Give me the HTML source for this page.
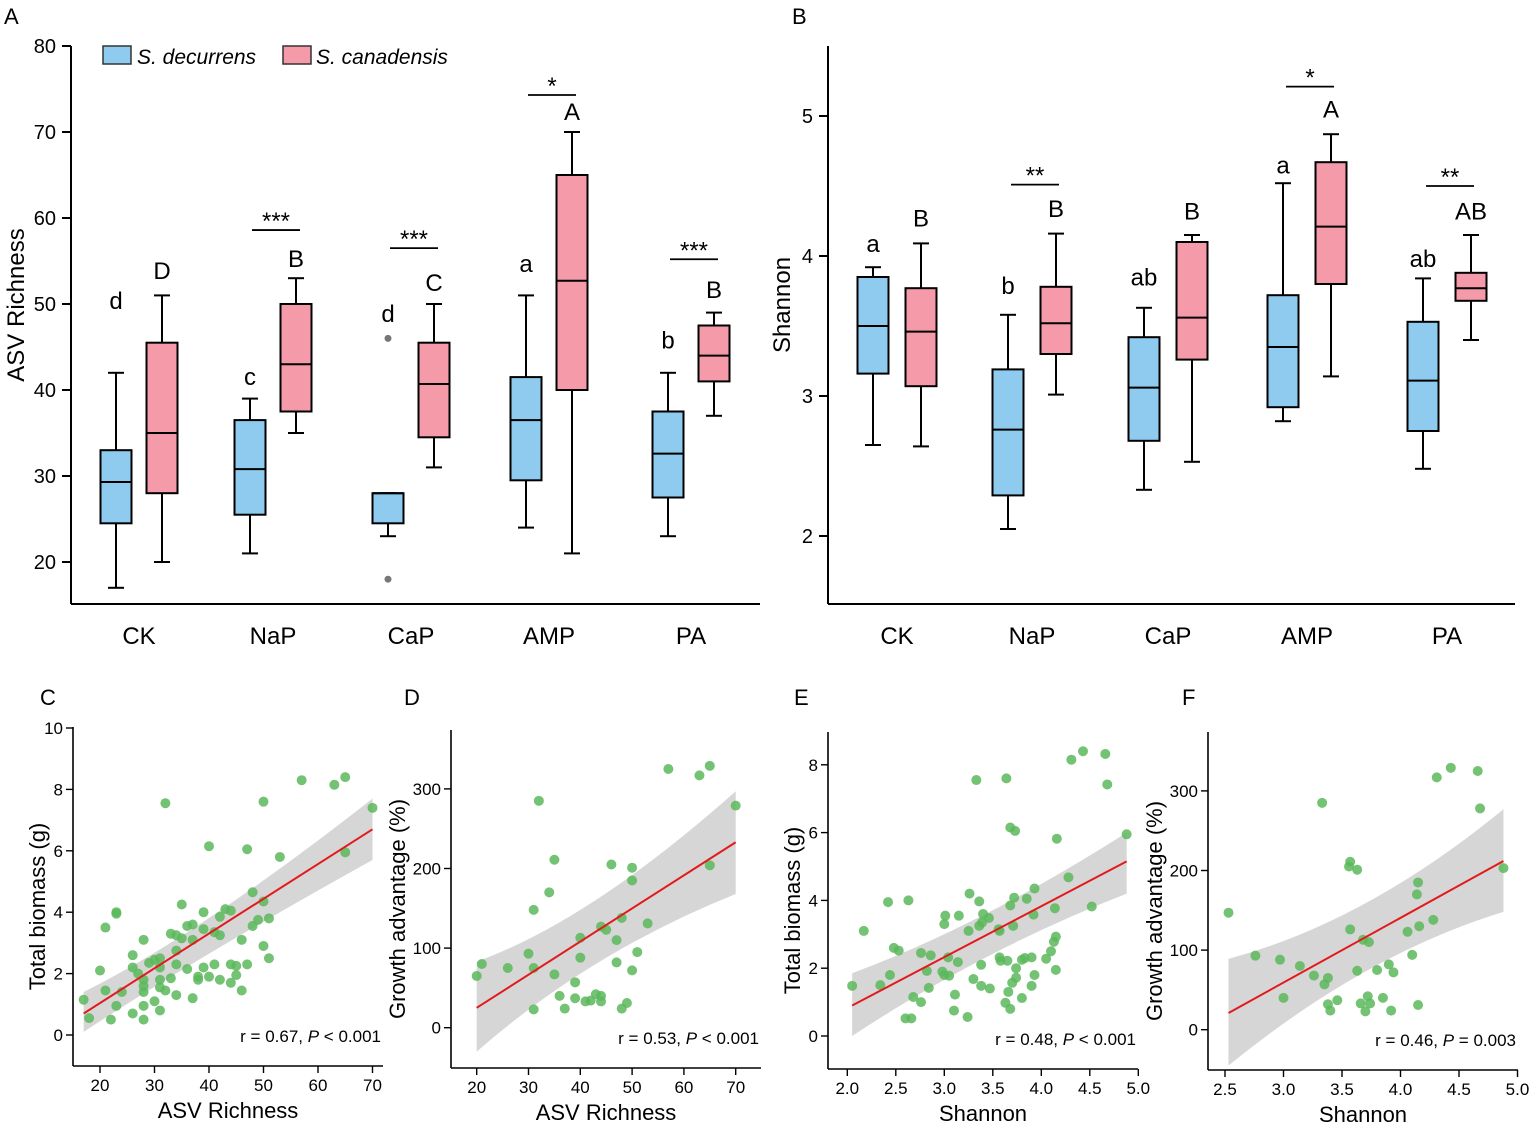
<!DOCTYPE html>
<html><head><meta charset="utf-8"><style>
html,body{margin:0;padding:0;background:#fff}
svg{display:block;font-family:"Liberation Sans",Arial,sans-serif}
</style></head><body>
<svg id="fig" width="1535" height="1128" viewBox="0 0 1535 1128" xmlns="http://www.w3.org/2000/svg"></svg>
<script>
// ---------- Data: panel A (ASV richness) ----------
const groups = ["CK","NaP","CaP","AMP","PA"];
const richDecMin=[17,21,23,24,23], richDecQ1=[24.5,25.5,24.5,29.5,27.5], richDecMed=[29.3,30.8,28,36.5,32.6], richDecQ3=[33,36.5,28,41.5,37.5], richDecMax=[42,39,28,51,42];
const richCanMin=[20,35,31,21,37], richCanQ1=[28,37.5,34.5,40,41], richCanMed=[35,43,40.7,52.7,44], richCanQ3=[45.5,50,45.5,65,47.5], richCanMax=[51,53,50,70,49];
const richDecLetters=["d","c","d","a","b"], richCanLetters=["D","B","C","A","B"];
const richDecLetterY=[49.4,40.6,47.9,53.7,44.8], richCanLetterY=[52.9,54.3,51.5,71.4,50.7];
const richSig=["","***","***","*","***"];
const richSigY=[0,58.6,56.5,74.3,55.2];
const richOutliers=[[2,46],[2,18]];
const richTicks=[20,30,40,50,60,70,80];
// ---------- Data: panel B (Shannon) ----------
const shDecMin=[2.65,2.05,2.33,2.82,2.48], shDecQ1=[3.16,2.29,2.68,2.92,2.75], shDecMed=[3.5,2.76,3.06,3.35,3.11], shDecQ3=[3.85,3.19,3.42,3.72,3.53], shDecMax=[3.92,3.58,3.63,4.52,3.84];
const shCanMin=[2.64,3.01,2.53,3.14,3.4], shCanQ1=[3.07,3.3,3.26,3.8,3.68], shCanMed=[3.46,3.52,3.56,4.21,3.77], shCanQ3=[3.77,3.78,4.1,4.67,3.88], shCanMax=[4.09,4.16,4.15,4.87,4.15];
const shDecLetters=["a","b","ab","a","ab"], shCanLetters=["B","B","B","A","AB"];
const shDecLetterY=[4.03,3.73,3.79,4.59,3.92], shCanLetterY=[4.21,4.28,4.26,4.99,4.26];
const shSig=["","**","","*","**"];
const shSigY=[0,4.51,0,5.21,4.5];
const shTicks=[2,3,4,5];
// ---------- Data: scatter panels ----------
const cX=[17,18,20,21,21,22,23,23,23,24,26,26,26,27,28,28,28,28,28,28,29,30,30,31,31,31,31,31,32,32,33,33,34,34,34,34,35,35,36,36,37,37,37,38,38,39,39,39,40,40,41,41,42,42,42,43,44,44,44,45,45,46,46,47,47,48,48,49,50,50,50,51,51,53,57,63,65,65,70];
const cY=[1.15,0.55,2.1,3.5,1.45,0.5,4.0,3.95,0.95,1.4,2.6,2.2,0.7,2.0,3.1,1.8,1.6,1.4,0.95,0.5,2.35,2.45,1.1,2.5,2.2,1.8,1.55,0.8,7.55,1.45,3.3,1.85,3.25,2.75,2.3,1.3,4.25,3.15,3.55,2.15,3.6,3.1,1.2,1.9,1.8,4.0,3.45,2.2,6.15,1.9,3.35,2.3,3.85,3.25,1.8,4.1,4.05,2.3,1.7,2.25,1.95,3.1,1.45,6.05,2.3,4.65,3.55,3.75,7.6,4.35,2.9,3.8,2.5,5.8,8.3,8.15,8.4,5.95,7.4];
const dX=[20,21,26,30,31,31,31,32,34,35,35,36,37,39,39,40,40,41,42,43,44,44,44,45,46,47,47,48,48,49,50,50,50,51,53,57,63,65,65,70];
const dY=[65,80,75,93,148,75,23,285,170,211,67,40,24,57,37,113,88,33,34,42,127,40,33,123,205,110,82,138,24,31,201,185,72,95,131,325,317,329,204,279];
const eX=[2.05,2.17,2.34,2.42,2.44,2.48,2.53,2.6,2.63,2.66,2.68,2.76,2.76,2.82,2.84,2.86,2.98,3.0,3.01,3.0,3.04,3.05,3.1,3.11,3.14,3.15,3.24,3.25,3.26,3.3,3.33,3.36,3.36,3.38,3.38,3.4,3.39,3.46,3.47,3.56,3.57,3.57,3.58,3.63,3.64,3.65,3.66,3.68,3.68,3.68,3.7,3.71,3.72,3.73,3.74,3.74,3.8,3.8,3.83,3.85,3.9,3.9,3.92,3.93,3.93,4.05,4.1,4.13,4.14,4.15,4.15,4.16,4.28,4.31,4.43,4.52,4.66,4.68,4.88];
const eY=[1.48,3.1,1.5,3.95,1.8,2.6,2.52,0.52,4.0,0.52,1.15,1.0,2.45,1.92,1.42,2.38,1.9,3.3,3.55,1.8,2.32,1.78,0.75,1.22,2.18,3.55,0.56,3.1,4.2,1.68,7.55,3.97,3.25,2.1,1.48,3.6,3.35,3.48,1.4,3.15,3.1,2.32,2.22,0.98,7.6,2.22,1.3,6.15,0.8,3.85,1.57,3.25,4.08,6.05,2.0,1.72,1.12,2.25,2.3,4.05,2.32,1.48,3.58,4.35,1.8,2.28,2.5,2.78,3.77,2.93,1.95,5.82,4.68,8.15,8.4,3.82,8.32,7.42,5.95];
const fX=[2.53,2.76,2.97,3.0,3.14,3.26,3.33,3.35,3.38,3.38,3.4,3.46,3.57,3.56,3.57,3.63,3.63,3.66,3.68,3.7,3.72,3.73,3.74,3.8,3.85,3.9,3.92,3.94,4.06,4.1,4.14,4.15,4.15,4.16,4.28,4.31,4.43,4.66,4.68,4.88];
const fY=[147,93,88,40,80,68,285,57,65,32,24,37,211,205,126,201,74,33,113,23,42,110,33,75,40,82,24,72,123,94,170,185,31,130,138,317,329,325,278,203];
const cFit=[17,0.7,70,6.7], cCI=[[17,0.1,1.4],[38,2.55,3.25],[70,5.7,7.7]];
const dFit=[20,25,70,233], dCI=[[20,-30,83],[42,95,135],[70,168,297]];
const eFit=[2.05,0.9,4.88,5.15], eCI=[[2.05,0,1.85],[3.4,2.55,3.3],[4.88,4.2,6.0]];
const fFit=[2.53,21,4.88,212], fCI=[[2.53,-45,89],[3.7,95,135],[4.88,148,277]];

const NS="http://www.w3.org/2000/svg";
const svg=document.getElementById('fig');
function el(tag,attrs,parent,text){const e=document.createElementNS(NS,tag);for(const k in attrs)e.setAttribute(k,attrs[k]);if(text!==undefined)e.textContent=text;(parent||svg).appendChild(e);return e;}
function line(x1,y1,x2,y2,p,w,c){return el('line',{x1,y1,x2,y2,stroke:c||'#000','stroke-width':w||2},p);}
function txt(x,y,s,size,p,anchor,extra){return el('text',Object.assign({x,y,'font-size':size,'text-anchor':anchor||'middle',fill:'#000'},extra||{}),p,s);}

const BLUE="#8fcbee", PINK="#f59aa9";

function boxPanel(name,opt){
  const g=el('g',{});  
  const Y=v=>opt.y0-(v-opt.v0)*opt.k;
  const ax=line(opt.ax,opt.top,opt.ax,opt.bottom,g);  
  const bx=line(opt.ax,opt.bottom,opt.right,opt.bottom,g);  
  opt.ticks.forEach(t=>{line(opt.ax-9,Y(t),opt.ax,Y(t),g);
    const l=txt(opt.ax-15,Y(t)+7,String(t),20,g,'end');  });
  const yt=txt(0,0,opt.ytitle,24,g,'middle',{transform:`translate(${opt.ytx},${(opt.top+opt.bottom)/2-20}) rotate(-90)`});
   
  const pl=txt(opt.letterX,opt.letterY,opt.letter,22,g,'start');  
  groups.forEach((gname,i)=>{
    const cx=opt.cx[i];
    const xl=txt(cx,644,gname,24,g);  
    [[opt.dec,BLUE,-opt.off,opt.decL,opt.decLY],[opt.can,PINK,opt.off,opt.canL,opt.canLY]].forEach(([d,col,off,L,LY],j)=>{
      const x=cx+off, w=31;
      const bg=el('g',{},g);  
      line(x,Y(d[4][i]),x,Y(d[3][i]),bg); line(x,Y(d[1][i]),x,Y(d[0][i]),bg);
      line(x-8,Y(d[4][i]),x+8,Y(d[4][i]),bg); line(x-8,Y(d[0][i]),x+8,Y(d[0][i]),bg);
      el('rect',{x:x-w/2,y:Y(d[3][i]),width:w,height:Math.max(0.5,Y(d[1][i])-Y(d[3][i])),fill:col,stroke:'#000','stroke-width':2},bg);
      line(x-w/2,Y(d[2][i]),x+w/2,Y(d[2][i]),bg);
      const lt=txt(x,Y(LY[i]),L[i],24,bg);  
    });
    if(opt.sig[i]){
      const ly=Y(opt.sigY[i]);
      const sg=el('g',{},g);  
      line(cx-21,ly,cx+27,ly,sg,1.8);
      txt(cx+3,ly-1,opt.sig[i],24,sg);
    }
  });
  (opt.outliers||[]).forEach(o=>{const c=el('circle',{cx:opt.cx[o[0]]-opt.off,cy:Y(o[1]),r:3.5,fill:'#777'},g);  });
}

boxPanel('panel-a-richness-boxplot',{ax:71,top:46,bottom:604,right:760,y0:562,v0:20,k:8.6,ticks:richTicks,ytitle:'ASV Richness',ytx:24,letter:'A',letterX:4,letterY:24,
  cx:[139,273,411,549,691],off:23,dec:[richDecMin,richDecQ1,richDecMed,richDecQ3,richDecMax],can:[richCanMin,richCanQ1,richCanMed,richCanQ3,richCanMax],
  decL:richDecLetters,canL:richCanLetters,decLY:richDecLetterY,canLY:richCanLetterY,sig:richSig,sigY:richSigY,outliers:richOutliers});
boxPanel('panel-b-shannon-boxplot',{ax:828,top:46,bottom:604,right:1515,y0:536,v0:2,k:140,ticks:shTicks,ytitle:'Shannon',ytx:790,letter:'B',letterX:792,letterY:24,
  cx:[897,1032,1168,1307,1447],off:24,dec:[shDecMin,shDecQ1,shDecMed,shDecQ3,shDecMax],can:[shCanMin,shCanQ1,shCanMed,shCanQ3,shCanMax],
  decL:shDecLetters,canL:shCanLetters,decLY:shDecLetterY,canLY:shCanLetterY,sig:shSig,sigY:shSigY});

const lg=el('g',{});  
const le1=el('g',{},lg);  
el('rect',{x:103,y:46,width:28,height:18,fill:BLUE,stroke:'#333','stroke-width':1.5},le1);
txt(137,64,'S. decurrens',21,le1,'start',{'font-style':'italic'});
const le2=el('g',{},lg);  
el('rect',{x:283,y:46,width:28,height:18,fill:PINK,stroke:'#333','stroke-width':1.5},le2);
txt(316,64,'S. canadensis',21,le2,'start',{'font-style':'italic'});

function scatter(name,o){
  const g=el('g',{});  
  const X=v=>o.xp0+(v-o.xv0)*o.xk, Y=v=>o.yp0-(v-o.yv0)*o.yk;
  const ya=line(o.ax,o.top,o.ax,o.bottom,g,1.6);  
  const xa=line(o.ax,o.bottom,o.right,o.bottom,g,1.6);  
  o.yt.forEach(t=>{line(o.ax-7,Y(t),o.ax,Y(t),g,1.4); const l=txt(o.ax-10,Y(t)+6,String(t),17,g,'end');  });
  o.xt.forEach(t=>{line(X(t),o.bottom,X(t),o.bottom+7,g,1.4); const l=txt(X(t),o.bottom+25,o.xfmt(t),17,g);  });
  const xt=txt((o.ax+o.right)/2,o.bottom+52,o.xtitle,22,g);  
  const yt=txt(0,0,o.ytitle,22,g,'middle',{transform:`translate(${o.ytx},${(o.top+o.bottom)/2+10}) rotate(-90)`});  
  const pl=txt(o.lx,705,o.letter,22,g,'start');  
  const c=o.ci; const up=c.map(p=>[X(p[0]),Y(p[2])]), lo=c.map(p=>[X(p[0]),Y(p[1])]).reverse();
  const d='M'+up[0][0]+','+up[0][1]+' Q'+up[1][0]+','+up[1][1]+' '+up[2][0]+','+up[2][1]+' L'+lo[0][0]+','+lo[0][1]+' Q'+lo[1][0]+','+lo[1][1]+' '+lo[2][0]+','+lo[2][1]+'Z';
  const band=el('path',{d,fill:'#d6d6d6'},g);  
  o.xs.forEach((v,i)=>{const p=el('circle',{cx:X(v),cy:Y(o.ys[i]),r:5,fill:'#5cb85c','fill-opacity':0.85},g);  });
  const f=o.fit; const rl=line(X(f[0]),Y(f[1]),X(f[2]),Y(f[3]),g,2,'#e31a1c');  
  const st=el('text',{x:o.right-2,y:o.bottom-24,'font-size':17,'text-anchor':'end',fill:'#000'},g);
   
  st.appendChild(document.createTextNode(o.stat[0]+', '));
  el('tspan',{'font-style':'italic'},st,'P'); st.appendChild(document.createTextNode(' '+o.stat[1]));
}
const f1=t=>t.toFixed(1), f0=t=>String(t);
scatter('panel-c-richness-biomass',{ax:73,top:727,bottom:1066,right:383,xp0:100,xv0:20,xk:5.45,yp0:1035,yv0:0,yk:30.7,yt:[0,2,4,6,8,10],xt:[20,30,40,50,60,70],xfmt:f0,
  xtitle:'ASV Richness',ytitle:'Total biomass (g)',ytx:45,letter:'C',lx:40,xs:cX,ys:cY,fit:cFit,ci:cCI,stat:['r = 0.67','< 0.001']});
scatter('panel-d-richness-growth',{ax:451,top:730,bottom:1068,right:761,xp0:476.7,xv0:20,xk:5.18,yp0:1027.7,yv0:0,yk:0.796,yt:[0,100,200,300],xt:[20,30,40,50,60,70],xfmt:f0,
  xtitle:'ASV Richness',ytitle:'Growth advantage (%)',ytx:405,letter:'D',lx:404,xs:dX,ys:dY,fit:dFit,ci:dCI,stat:['r = 0.53','< 0.001']});
scatter('panel-e-shannon-biomass',{ax:828,top:732,bottom:1069,right:1138,xp0:847.3,xv0:2,xk:97,yp0:1036,yv0:0,yk:33.9,yt:[0,2,4,6,8],xt:[2,2.5,3,3.5,4,4.5,5],xfmt:f1,
  xtitle:'Shannon',ytitle:'Total biomass (g)',ytx:800,letter:'E',lx:794,xs:eX,ys:eY,fit:eFit,ci:eCI,stat:['r = 0.48','< 0.001']});
scatter('panel-f-shannon-growth',{ax:1208,top:732,bottom:1070,right:1518,xp0:1225,xv0:2.5,xk:117,yp0:1029.7,yv0:0,yk:0.796,yt:[0,100,200,300],xt:[2.5,3,3.5,4,4.5,5],xfmt:f1,
  xtitle:'Shannon',ytitle:'Growth advantage (%)',ytx:1162,letter:'F',lx:1182,xs:fX,ys:fY,fit:fFit,ci:fCI,stat:['r = 0.46','= 0.003']});
</script>
</body></html>
